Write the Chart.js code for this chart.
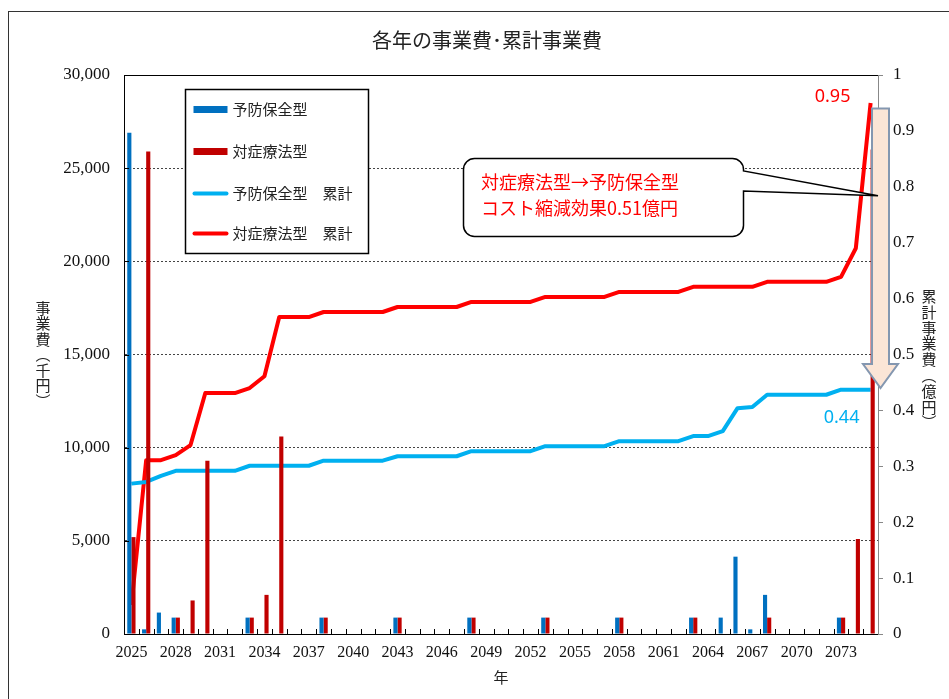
<!DOCTYPE html>
<html lang="ja">
<head>
<meta charset="utf-8">
<title>各年の事業費・累計事業費</title>
<script src="https://cdn.jsdelivr.net/npm/chart.js@4.4.1/dist/chart.umd.min.js"></script>
<style>
  html, body { margin: 0; padding: 0; background: #fff; }
  #wrap { width: 949px; height: 699px; }
</style>
</head>
<body>
<div id="wrap"><canvas id="chart" width="949" height="699"></canvas></div>
<script>
// 年 (カテゴリ)
const years = [
  '2025','2026','2027','2028','2029','2030','2031','2032','2033','2034',
  '2035','2036','2037','2038','2039','2040','2041','2042','2043','2044',
  '2045','2046','2047','2048','2049','2050','2051','2052','2053','2054',
  '2055','2056','2057','2058','2059','2060','2061','2062','2063','2064',
  '2065','2066','2067','2068','2069','2070','2071','2072','2073','2074','2075'
];
// 軸に表示する年
const yearTicks = ['2025','2028','2031','2034','2037','2040','2043','2046','2049',
  '2052','2055','2058','2061','2064','2067','2070','2073'];

// 各年の事業費 (千円)
const yoboCost = [
  26900, 250, 1150, 880, 0, 0, 0, 0, 880, 0,
  0, 0, 0, 880, 0, 0, 0, 0, 880, 0,
  0, 0, 0, 880, 0, 0, 0, 0, 880, 0,
  0, 0, 0, 880, 0, 0, 0, 0, 880, 0,
  880, 4150, 250, 2100, 0, 0, 0, 0, 880, 0, 0
];
const taishoCost = [
  5200, 25900, 0, 880, 1800, 9300, 0, 0, 880, 2100,
  10600, 0, 0, 880, 0, 0, 0, 0, 880, 0,
  0, 0, 0, 880, 0, 0, 0, 0, 880, 0,
  0, 0, 0, 880, 0, 0, 0, 0, 880, 0,
  0, 0, 0, 880, 0, 0, 0, 0, 880, 5100, 26000
];

// 累計事業費 (億円)
const yoboTotal = [
  0.269, 0.272, 0.283, 0.292, 0.292, 0.292, 0.292, 0.292, 0.301, 0.301,
  0.301, 0.301, 0.301, 0.310, 0.310, 0.310, 0.310, 0.310, 0.318, 0.318,
  0.318, 0.318, 0.318, 0.327, 0.327, 0.327, 0.327, 0.327, 0.336, 0.336,
  0.336, 0.336, 0.336, 0.345, 0.345, 0.345, 0.345, 0.345, 0.354, 0.354,
  0.363, 0.404, 0.406, 0.428, 0.428, 0.428, 0.428, 0.428, 0.437, 0.437, 0.437
];
const taishoTotal = [
  0.052, 0.311, 0.311, 0.320, 0.338, 0.431, 0.431, 0.431, 0.440, 0.461,
  0.567, 0.567, 0.567, 0.576, 0.576, 0.576, 0.576, 0.576, 0.585, 0.585,
  0.585, 0.585, 0.585, 0.594, 0.594, 0.594, 0.594, 0.594, 0.603, 0.603,
  0.603, 0.603, 0.603, 0.612, 0.612, 0.612, 0.612, 0.612, 0.621, 0.621,
  0.621, 0.621, 0.621, 0.630, 0.630, 0.630, 0.630, 0.630, 0.639, 0.690, 0.950
];

const fontJP = '"Noto Sans CJK JP", "Noto Sans", sans-serif';
const fontNum = '"Liberation Serif", "DejaVu Serif", serif';

// 縦書きの軸タイトル
function drawVertical(ctx, chars, x, yCenter, step) {
  const top = yCenter - step * (chars.length - 1) / 2;
  ctx.textAlign = 'center';
  ctx.textBaseline = 'middle';
  chars.forEach((c, i) => ctx.fillText(c, x, top + i * step));
}

const decoPlugin = {
  id: 'deco',
  beforeDraw(chart) {
    const ctx = chart.ctx;
    ctx.save();
    ctx.fillStyle = '#fff';
    ctx.fillRect(0, 0, chart.width, chart.height);
    ctx.strokeStyle = '#333';
    ctx.lineWidth = 1;
    ctx.strokeRect(8.5, 11.5, chart.width + 20, chart.height + 20);
    ctx.restore();
  },
  afterDraw(chart) {
    const ctx = chart.ctx;
    const area = chart.chartArea;
    const x = chart.scales.x, y = chart.scales.y, y1 = chart.scales.y1;
    ctx.save();

    // 上枠
    ctx.strokeStyle = '#000';
    ctx.lineWidth = 1;
    ctx.beginPath();
    ctx.moveTo(area.left, Math.round(area.top) + 0.5);
    ctx.lineTo(area.right, Math.round(area.top) + 0.5);
    ctx.stroke();

    // 内向きの目盛り
    ctx.beginPath();
    const cw = (area.right - area.left) / years.length;
    for (let i = 1; i < years.length; i++) {
      const px = Math.round(area.left + i * cw) + 0.5;
      ctx.moveTo(px, area.bottom);
      ctx.lineTo(px, area.bottom - 5);
    }
    y.ticks.forEach(t => {
      const py = Math.round(y.getPixelForValue(t.value)) + 0.5;
      ctx.moveTo(area.left, py);
      ctx.lineTo(area.left + 5, py);
    });
    ctx.stroke();

    // タイトル
    ctx.fillStyle = '#222';
    ctx.font = '20px ' + fontJP;
    ctx.textAlign = 'center';
    ctx.textBaseline = 'middle';
    ctx.fillText('各年の事業費･累計事業費', 487, 40);

    // 軸タイトル
    ctx.font = '15px ' + fontJP;
    ctx.fillText('年', (area.left + area.right) / 2, 677);
    const midY = (area.top + area.bottom) / 2;
    drawVertical(ctx, ['事', '業', '費', '︵', '千', '円', '︶'], 43, midY, 15.5);
    drawVertical(ctx, ['累', '計', '事', '業', '費', '︵', '億', '円', '︶'], 929, midY + 5, 15.8);

    // 凡例
    const lg = { x: 185.5, y: 89.5, w: 183, h: 164 };
    ctx.fillStyle = '#fff';
    ctx.fillRect(lg.x, lg.y, lg.w, lg.h);
    ctx.strokeStyle = '#000';
    ctx.lineWidth = 1.5;
    ctx.strokeRect(lg.x, lg.y, lg.w, lg.h);
    const rowY = [20, 62, 104, 144];
    chart.data.datasets.forEach((ds, i) => {
      const ry = lg.y + rowY[i];
      if (ds.type === 'line') {
        ctx.strokeStyle = ds.borderColor;
        ctx.lineWidth = 4;
        ctx.lineCap = 'round';
        ctx.beginPath();
        ctx.moveTo(lg.x + 9, ry);
        ctx.lineTo(lg.x + 41, ry);
        ctx.stroke();
      } else {
        ctx.fillStyle = ds.backgroundColor;
        ctx.fillRect(lg.x + 8, ry - 3.5, 34, 7);
      }
      ctx.fillStyle = '#222';
      ctx.font = '15px ' + fontJP;
      ctx.textAlign = 'left';
      ctx.textBaseline = 'middle';
      ctx.fillText(ds.label, lg.x + 47, ry);
    });

    // 下向き矢印 (0.95 → 0.44)
    const ax = area.right + 2.5;
    const aTop = y1.getPixelForValue(0.94);
    const aTip = y1.getPixelForValue(0.44);
    ctx.beginPath();
    ctx.moveTo(ax - 8.5, aTop);
    ctx.lineTo(ax + 8.5, aTop);
    ctx.lineTo(ax + 8.5, aTip - 24);
    ctx.lineTo(ax + 17.5, aTip - 24);
    ctx.lineTo(ax, aTip);
    ctx.lineTo(ax - 17.5, aTip - 24);
    ctx.lineTo(ax - 8.5, aTip - 24);
    ctx.closePath();
    ctx.fillStyle = '#FBE5D6';
    ctx.fill();
    ctx.strokeStyle = '#8497B0';
    ctx.lineWidth = 2;
    ctx.lineJoin = 'miter';
    ctx.stroke();

    // 吹き出し
    const bx1 = 463.5, by1 = 158.5, bx2 = 743.5, by2 = 236.5, r = 11;
    const tipX = area.right, tipY = y1.getPixelForValue(0.784);
    ctx.beginPath();
    ctx.moveTo(bx1 + r, by1);
    ctx.lineTo(bx2 - r, by1);
    ctx.arcTo(bx2, by1, bx2, by1 + r, r);
    ctx.lineTo(bx2, 171);
    ctx.lineTo(tipX, tipY);
    ctx.lineTo(bx2, 191);
    ctx.lineTo(bx2, by2 - r);
    ctx.arcTo(bx2, by2, bx2 - r, by2, r);
    ctx.lineTo(bx1 + r, by2);
    ctx.arcTo(bx1, by2, bx1, by2 - r, r);
    ctx.lineTo(bx1, by1 + r);
    ctx.arcTo(bx1, by1, bx1 + r, by1, r);
    ctx.closePath();
    ctx.fillStyle = '#fff';
    ctx.fill();
    ctx.strokeStyle = '#000';
    ctx.lineWidth = 1.5;
    ctx.stroke();
    ctx.fillStyle = '#FF0000';
    ctx.font = '18px ' + fontJP;
    ctx.textAlign = 'left';
    ctx.textBaseline = 'middle';
    ctx.fillText('対症療法型→予防保全型', 481, 182);
    ctx.fillText('コスト縮減効果0.51億円', 481, 208);

    // 最終値ラベル
    const last = years.length - 1;
    const lx = x.getPixelForValue(last);
    ctx.font = '18px "Noto Sans", sans-serif';
    ctx.textAlign = 'center';
    ctx.fillStyle = '#FF0000';
    ctx.fillText(taishoTotal[last].toFixed(2), lx - 38, y1.getPixelForValue(taishoTotal[last]) - 6);
    ctx.fillStyle = '#00B0F0';
    ctx.fillText('0.44', lx - 29, y1.getPixelForValue(yoboTotal[last]) + 28);

    ctx.restore();
  }
};

new Chart(document.getElementById('chart'), {
  type: 'bar',
  data: {
    labels: years,
    datasets: [
      { label: '予防保全型', data: yoboCost, backgroundColor: '#0070C0', yAxisID: 'y', order: 0,
        categoryPercentage: 0.56, barPercentage: 1.0 },
      { label: '対症療法型', data: taishoCost, backgroundColor: '#C00000', yAxisID: 'y', order: 0,
        categoryPercentage: 0.56, barPercentage: 1.0 },
      { type: 'line', label: '予防保全型\u3000累計', data: yoboTotal, borderColor: '#00B0F0', yAxisID: 'y1',
        order: 1, borderWidth: 4, pointRadius: 0, tension: 0, fill: false, borderJoinStyle: 'round' },
      { type: 'line', label: '対症療法型\u3000累計', data: taishoTotal, borderColor: '#FF0000', yAxisID: 'y1',
        order: 1, borderWidth: 4, pointRadius: 0, tension: 0, fill: false, borderJoinStyle: 'round' }
    ]
  },
  options: {
    responsive: false,
    animation: false,
    devicePixelRatio: 1,
    layout: { padding: { top: 75, left: 0, right: 0, bottom: 0 } },
    plugins: {
      legend: { display: false },
      title: { display: false },
      tooltip: { enabled: false }
    },
    scales: {
      x: {
        offset: true,
        grid: { display: true, drawOnChartArea: false, drawTicks: false },
        border: { color: '#000', width: 1 },
        ticks: {
          autoSkip: false, maxRotation: 0, padding: 9, color: '#111',
          font: { family: fontNum, size: 16 },
          callback: (v, i) => yearTicks.includes(years[i]) ? years[i] : ''
        },
        afterFit: s => { s.height = 65; }
      },
      y: {
        position: 'left',
        min: 0, max: 30000,
        ticks: {
          stepSize: 5000, padding: 14, color: '#111',
          font: { family: fontNum, size: 17 },
          callback: v => v.toLocaleString('en-US')
        },
        grid: { color: '#444', lineWidth: 1, drawTicks: false },
        border: { color: '#000', width: 1, dash: [2, 2] },
        afterFit: s => { s.width = 124; }
      },
      y1: {
        position: 'right',
        min: 0, max: 1,
        ticks: {
          stepSize: 0.1, padding: 10, color: '#111',
          font: { family: fontNum, size: 17 },
          callback: v => String(Math.round(v * 10) / 10)
        },
        grid: { drawOnChartArea: false, drawTicks: true, tickLength: 5, color: '#888' },
        border: { color: '#888', width: 1 },
        afterFit: s => { s.width = 71; }
      }
    }
  },
  plugins: [decoPlugin]
});
</script>
</body>
</html>
